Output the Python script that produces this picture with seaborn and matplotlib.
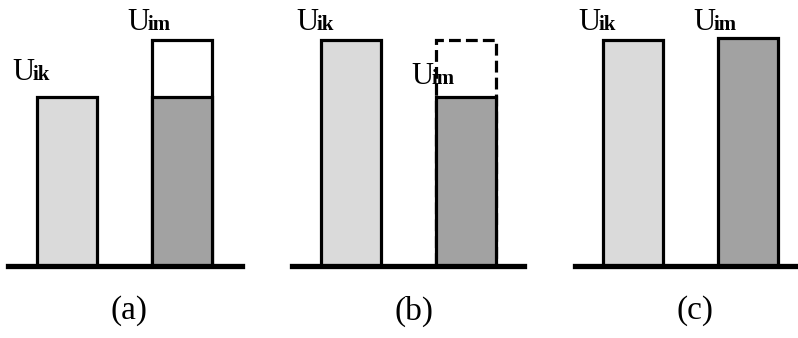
import matplotlib
matplotlib.use("Agg")
import matplotlib.pyplot as plt
import seaborn as sns

# bar heights, relative to the full height of the tall bars
panels = ["(a)", "(b)", "(c)"]
cats = ["Uik", "Uim"]
uik = [0.75, 1.0, 1.0]
uim = [0.75, 0.75, 1.01]
uim_cap = [1.0, 1.0, None]          # outline above the Uim bar
cap_style = ["solid", "dashed", None]
# height the labels sit above
uik_label_at = [0.75, 1.0, 1.0]
uim_label_at = [1.0, 0.75, 1.0]

sns.set_style("white")
plt.rcParams["font.family"] = ["Liberation Serif", "DejaVu Serif"]
plt.rcParams["text.color"] = "black"

W, H = 798, 338
fig = plt.figure(figsize=(W / 100, H / 100), dpi=100)

unit = 115.0                      # px between the two bars
base_y = 266                      # baseline, px from top
full_h = 226                      # px for height 1.0
first_bar = [67, 351, 633]
extent = [(8, 242), (292, 524), (575, 795)]
light, dark = "#dadada", "#a2a2a2"
bw = 60 / unit


def label(ax, x, y, sub, dy):
    ax.annotate("U", xy=(x, y), xytext=(-bw / 2 * unit - 25, dy), textcoords="offset pixels",
                fontsize=22, ha="left", va="baseline")
    ax.annotate(sub, xy=(x, y), xytext=(-bw / 2 * unit - 25 + 21, dy), textcoords="offset pixels",
                fontsize=15, fontweight="bold", ha="left", va="baseline")


for i, name in enumerate(panels):
    x0, x1 = extent[i]
    ax = fig.add_axes([x0 / W, (H - base_y) / H, (x1 - x0) / W, base_y / H])

    if uim_cap[i] is not None:
        sns.barplot(x=["Uim"], y=[uim_cap[i]], order=cats, width=bw, fill=False,
                    edgecolor="black", linewidth=2.3, linestyle=cap_style[i],
                    ax=ax, zorder=2)
        for p in ax.patches:
            p.set_facecolor("white")
            p.set_fill(True)
    sns.barplot(x=cats, y=[uik[i], uim[i]], hue=cats, palette=[light, dark], legend=False,
                order=cats, width=bw, edgecolor="black", linewidth=2.3, ax=ax, zorder=3)

    ax.set_xlim((x0 - first_bar[i]) / unit, (x1 - first_bar[i]) / unit)
    ax.set_ylim(0, base_y / full_h)
    ax.set_xticks([])
    ax.set_yticks([])
    ax.set_xlabel("")
    ax.set_ylabel("")
    for s in ["top", "left", "right"]:
        ax.spines[s].set_visible(False)
    ax.spines["bottom"].set_linewidth(3.8)
    ax.spines["bottom"].set_color("black")
    ax.spines["bottom"].set_zorder(5)
    ax.patch.set_alpha(0)

    label(ax, 0, uik_label_at[i], "ik", 17 if uik_label_at[i] < 1 else 10)
    label(ax, 1, uim_label_at[i], "im", 12 if uim_label_at[i] < 1 else 10)

    ax.annotate(name, xy=(0.5, 0), xytext=(5, -45), textcoords="offset pixels",
                fontsize=24, ha="center", va="center", annotation_clip=False)

fig.savefig("out.png", dpi=100)
